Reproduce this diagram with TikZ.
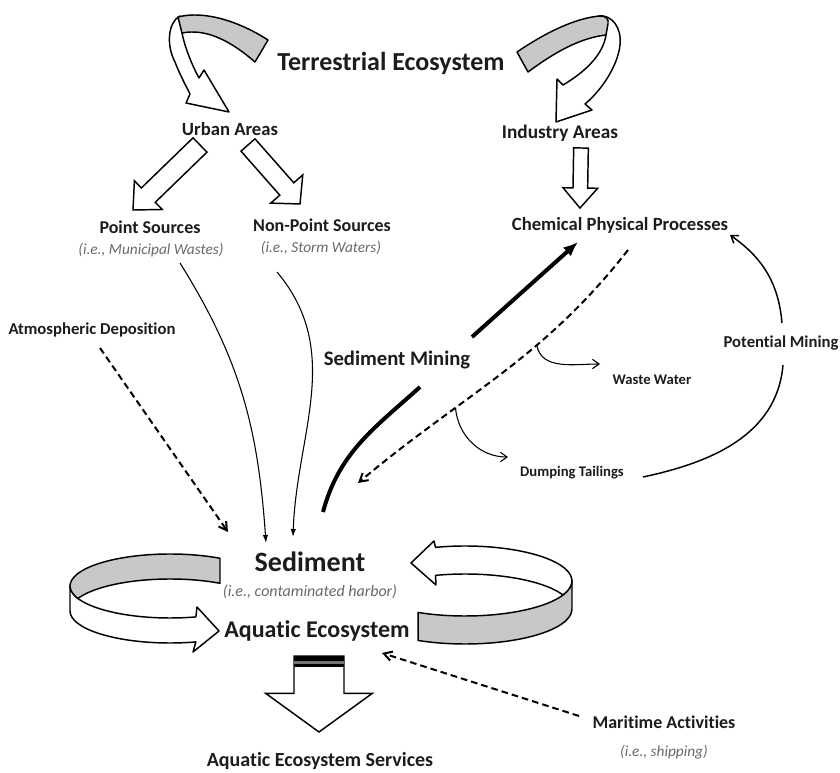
\documentclass[tikz,border=0pt]{standalone}
\usepackage{fontspec}
\setmainfont{Carlito}[Ligatures={NoCommon}]
\usetikzlibrary{arrows.meta, calc, positioning}
\definecolor{bandgray}{RGB}{200,200,200}
\definecolor{inkblack}{RGB}{28,28,28}
\definecolor{notegray}{RGB}{105,105,105}

\newcommand{\fsz}[1]{\fontsize{#1}{#1}\selectfont}
% block arrow: tail, tip, shaft half width, head half width, head length
\newcommand{\blockarr}[5]{%
  \coordinate (ba) at ($(#2)!#5!(#1)$);
  \draw[blockarrow] ($(#1)!#3!90:(#2)$) -- ($(ba)!#3!90:(#2)$) -- ($(ba)!#4!90:(#2)$) -- (#2)
    -- ($(ba)!#4!-90:(#2)$) -- ($(ba)!#3!-90:(#2)$) -- ($(#1)!#3!-90:(#2)$) -- cycle;}

\begin{document}
\begin{tikzpicture}[x=0.75pt, y=-0.75pt,
    title/.style={font=\bfseries\fsz{#1}, text=inkblack, inner sep=1pt},
    note/.style={font=\itshape\fsz{#1}, text=notegray, inner sep=1pt},
    note/.default=11.5,
    band/.style={draw=black, line width=1.1pt, line join=round},
    blockarrow/.style={draw=black, line width=1.1pt, fill=white, line join=miter},
    flow/.style={-{Latex[length=6pt,width=4pt]}, line width=0.8pt},
    dashflow/.style={-{Straight Barb[length=6pt,width=7pt]}, line width=1.5pt, dash pattern=on 5pt off 3pt},
    side/.style={-{Straight Barb[length=5pt,width=7pt]}, line width=0.8pt},
    mine/.style={line width=3pt}
  ]
  \useasboundingbox (0,0) rectangle (840,773);

  % twisted arrows round the terrestrial ecosystem
  \draw[band, fill=white] (180,16) .. controls (168,22) and (166,45) .. (175,62)
    .. controls (180,75) and (186,86) .. (190,94) -- (186,103) -- (229,112) -- (204,70) -- (199,78)
    .. controls (192,65) and (185,48) .. (182,33) -- cycle;
  \draw[band, fill=bandgray] (268,40) .. controls (240,22) and (205,10) .. (178,17) -- (182,33)
    .. controls (207,28) and (232,42) .. (255,62) -- cycle;
  \draw[band, fill=white] (598,16) .. controls (612,14) and (622,28) .. (620,45)
    .. controls (618,65) and (602,90) .. (585,104) -- (592,110) -- (556,122) -- (557,79) -- (563,85)
    .. controls (585,72) and (603,55) .. (606,35) -- cycle;
  \draw[band, fill=bandgray] (517,52) .. controls (545,33) and (575,18) .. (600,16)
    .. controls (606,16) and (609,19) .. (608,24) -- (606,35) .. controls (580,38) and (555,52) .. (528,72) -- cycle;

  % rings round the sediment
  \coordinate (lc1) at (170,586);
  \coordinate (lc2) at (170,611);
  \draw[band, fill=white] ($(lc1)+(180:100 and 32)$) arc[start angle=180, end angle=75, x radius=100, y radius=32]
    -- (197,607) -- (219,631) -- (193,652)
    -- ($(lc2)+(75:100 and 32)$) arc[start angle=75, end angle=180, x radius=100, y radius=32] -- cycle;
  \draw[band, fill=bandgray] ($(lc1)+(-60:100 and 32)$) arc[start angle=-60, end angle=-203, x radius=100, y radius=32]
    -- ($(lc2)+(-157:100 and 32)$) arc[start angle=-157, end angle=-60, x radius=100, y radius=32] -- cycle;
  \coordinate (rc1) at (465,581);
  \coordinate (rc2) at (465,609);
  \draw[band, fill=white] ($(rc1)+(-106:107 and 35)$) arc[start angle=-106, end angle=23.6, x radius=107, y radius=35]
    -- ($(rc2)+(-23.6:107 and 35)$) arc[start angle=-23.6, end angle=-106, x radius=107, y radius=35]
    -- (436,585) -- (411,563) -- (434,541) -- cycle;
  \draw[band, fill=bandgray] ($(rc1)+(0:107 and 35)$) arc[start angle=0, end angle=116, x radius=107, y radius=35]
    -- ($(rc2)+(116:107 and 35)$) arc[start angle=116, end angle=0, x radius=107, y radius=35] -- cycle;

  % labels
  \node[title=19.5] (terr) at (391,63) {Terrestrial Ecosystem};
  \node[title=14] (urban) at (230,129) {Urban Areas};
  \node[title=14.5] (industry) at (560,133) {Industry Areas};
  \node[title=13.5] (point) at (150,227) {Point Sources};
  \node[note] (pointsub) at (151,250) {(i.e., Municipal Wastes)};
  \node[title=13.5] (nonpoint) at (322,225) {Non-Point Sources};
  \node[note] (nonpointsub) at (321,248) {(i.e., Storm Waters)};
  \node[title=14] (chem) at (620,225) {Chemical Physical Processes};
  \node[title=15.5] (mining) at (397,360) {Sediment Mining};
  \node[title=12.5] (atmos) at (92,330) {Atmospheric Deposition};
  \node[title=11] (waste) at (652,380) {Waste Water};
  \node[title=12.5, anchor=west] (potm) at (722,343) {Potential Mining};
  \node[title=11] (dump) at (572,473) {Dumping Tailings};
  \node[title=21] (sed) at (310,562) {Sediment};
  \node[note=12] (sedsub) at (310,592) {(i.e., contaminated harbor)};
  \node[title=18] (aqua) at (317,631) {Aquatic Ecosystem};
  \node[title=15] (services) at (320,761) {Aquatic Ecosystem Services};
  \node[title=13.5] (maritime) at (664,722) {Maritime Activities};
  \node[note] (maritimesub) at (664,752) {(i.e., shipping)};

  % block arrows
  \blockarr{200,145}{133,210}{7.5pt}{15pt}{16pt}
  \blockarr{248,145}{300,204}{7pt}{16pt}{15pt}
  \blockarr{581,148}{580,208}{5.5pt}{13pt}{15pt}
  \blockarr{319,656}{319,732}{18.75pt}{40pt}{29pt}
  \fill[black] (294,656) rectangle (344,661);
  \fill[black!55] (294,661) rectangle (344,664);
  \fill[black] (294,664) rectangle (344,667);

  % flows into the sediment
  \draw[flow] ($(pointsub)+(29,13)$) to[out=-58, in=94] ($(sed)+(-44,-19)$);
  \draw[flow] ($(nonpointsub)+(-44,24)$) to[out=-50, in=88] ($(sed)+(-17,-25)$);
  \draw[dashflow] ($(atmos)+(8,18)$) -- ($(sed)+(-82,-30)$);
  \draw[dashflow] ($(maritime)+(-85,-6)$) -- ($(aqua)+(65,22)$);

  % mining loop
  \coordinate (minelo) at (420,387);
  \coordinate (minehi) at (472,337);
  \draw[mine] ($(sed)+(13,-50)$) to[out=75, in=-138] (minelo);
  \draw[mine, -{Latex[length=11pt,width=9pt]}] (minehi) -- ($(chem)+(-42,17)$);
  \draw[dashflow] ($(chem)+(8,25)$) to[out=-128, in=40] coordinate[pos=0.36] (wsplit) coordinate[pos=0.67] (dsplit) ($(sed)+(48,-79)$);
  \draw[side] (wsplit) to[out=-80, in=180] ($(waste)+(-52,-16)$);
  \draw[side] (dsplit) to[out=-85, in=180] ($(dump)+(-64,-16)$);
  \draw[line width=1.1pt] ($(dump)+(71,4)$) to[out=12, in=-95] ($(potm.west)+(61,22)$);
  \draw[side, line width=1.1pt] ($(potm.west)+(60,-20)$) to[out=95, in=-35] ($(chem)+(110,10)$);
\end{tikzpicture}
\end{document}
